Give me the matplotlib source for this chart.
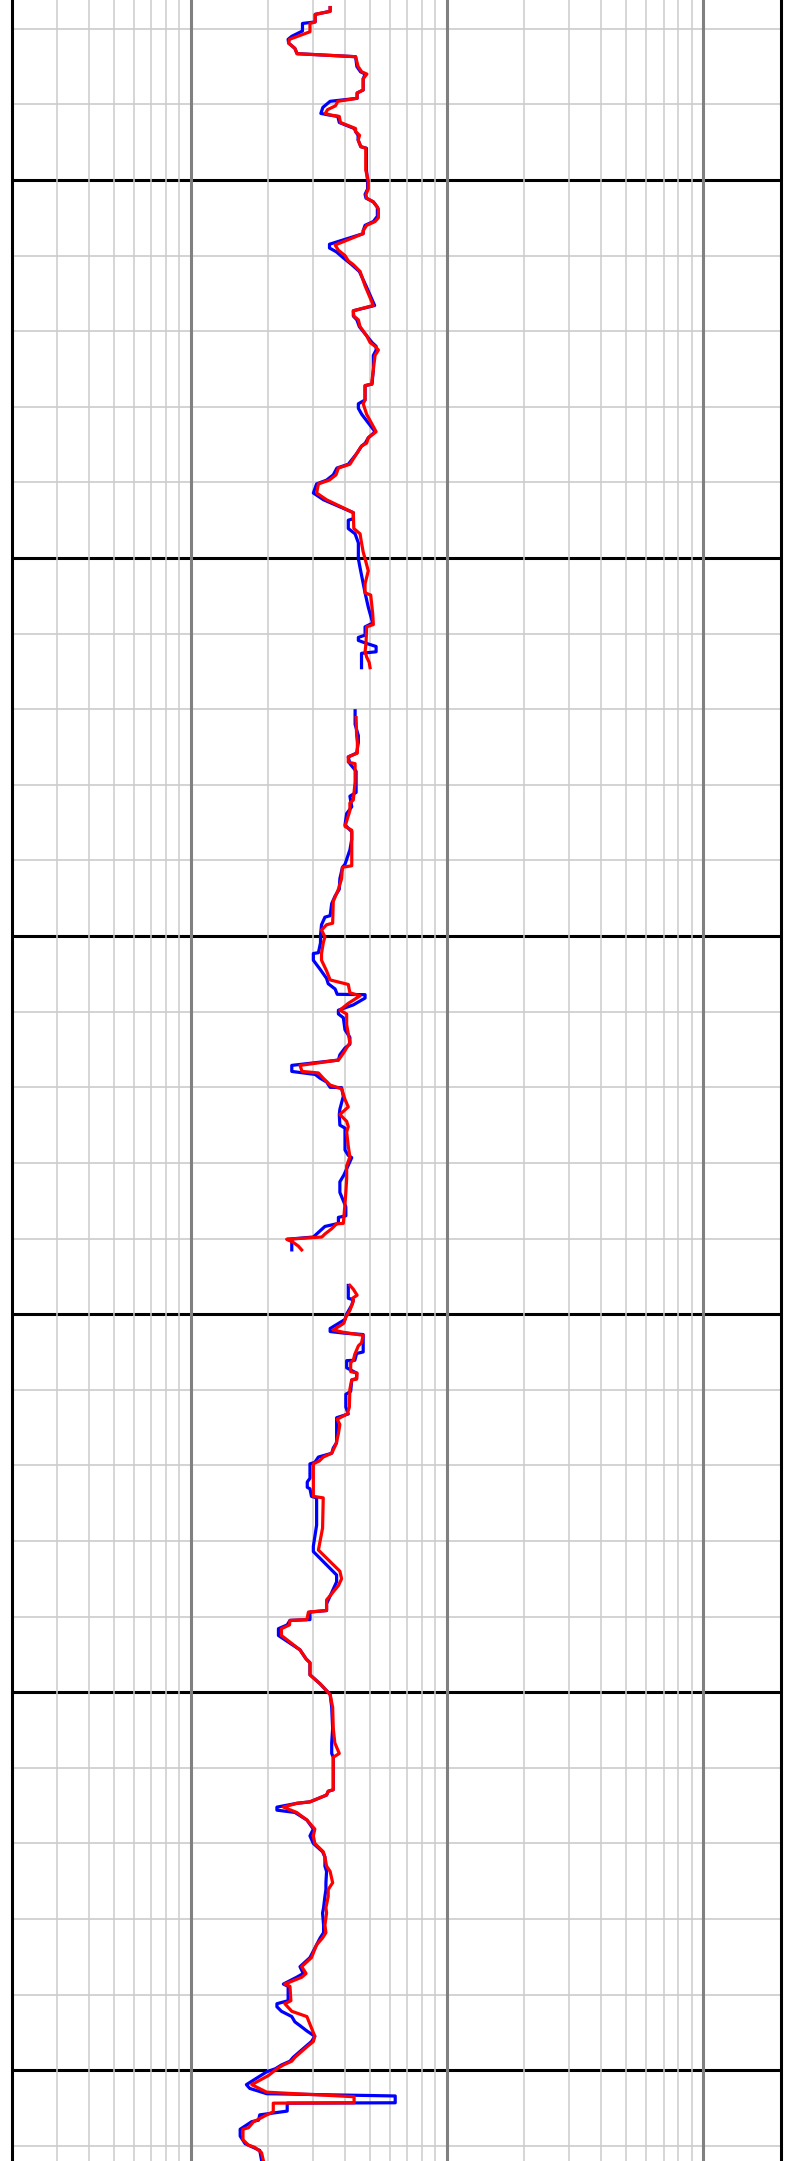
import matplotlib
matplotlib.use('Agg')
import matplotlib.pyplot as plt
import numpy as np

nan = np.nan

blue_log = [
    (1027.2, 3.50), (1027.7, 3.50), (1028.1, 3.06), (1029.1, 3.06), (1029.3, 2.73),
    (1030.3, 2.73), (1031.0, 2.48), (1031.4, 2.40), (1031.9, 2.41), (1032.6, 2.55),
    (1033.3, 2.60), (1033.7, 4.40), (1035.0, 4.45), (1035.7, 4.60), (1036.0, 4.80),
    (1036.6, 4.71), (1038.1, 4.71), (1038.5, 4.46), (1039.2, 4.46), (1039.6, 3.50),
    (1040.4, 3.28), (1041.2, 3.22), (1041.4, 3.45), (1041.6, 3.75), (1042.4, 3.80),
    (1043.2, 4.35), (1043.6, 4.40), (1044.1, 4.50), (1044.7, 4.50), (1045.6, 4.61),
    (1045.8, 4.85), (1048.7, 4.85), (1050.1, 4.90), (1051.2, 4.90), (1051.9, 4.79),
    (1052.4, 4.83), (1052.9, 5.16), (1053.6, 5.35), (1054.8, 5.35), (1055.5, 5.16),
    (1056.0, 4.79), (1056.7, 4.71), (1057.1, 4.71), (1058.5, 3.48), (1059.0, 3.48),
    (1059.5, 3.70), (1060.3, 3.94), (1061.2, 4.25), (1062.1, 4.55), (1064.0, 4.83),
    (1066.6, 5.22), (1067.3, 4.31), (1068.0, 4.31), (1068.5, 4.45), (1069.4, 4.55),
    (1070.6, 4.86), (1071.5, 5.10), (1072.0, 5.29), (1072.5, 5.29), (1073.2, 5.16),
    (1075.1, 5.16), (1077.0, 5.10), (1077.2, 4.79), (1079.1, 4.79), (1079.6, 4.51),
    (1080.2, 4.51), (1081.0, 4.65), (1083.3, 5.24), (1084.1, 4.93), (1084.8, 4.80),
    (1085.2, 4.64), (1086.2, 4.44), (1087.6, 4.12), (1088.1, 3.72), (1089.0, 3.60),
    (1089.7, 3.39), (1090.2, 3.10), (1091.4, 3.01), (1092.3, 3.30), (1094.0, 4.31),
    (1094.8, 4.31), (1095.0, 4.12), (1096.1, 4.12), (1096.8, 4.38), (1098.0, 4.51),
    (1100.1, 4.51), (1101.3, 4.58), (1103.4, 4.71), (1104.6, 4.79), (1106.5, 4.93),
    (1108.6, 5.13), (1109.1, 4.79), (1110.2, 4.79), (1110.5, 4.51), (1110.9, 4.51),
    (1111.3, 4.86), (1111.7, 5.29), (1112.4, 5.29), (1112.6, 4.64), (1114.5, 4.64),
    (1117.0, nan),
    (1120.2, 4.38), (1122.0, 4.38), (1123.5, 4.51), (1124.4, 4.51), (1125.8, 4.44),
    (1126.3, 4.12), (1127.2, 4.18), (1128.2, 4.42), (1131.0, 4.42), (1131.5, 4.18),
    (1132.9, 4.25), (1133.8, 4.06), (1135.3, 4.00), (1136.2, 4.25), (1137.2, 4.25),
    (1138.6, 4.18), (1140.5, 4.00), (1140.9, 3.91), (1142.4, 3.82), (1143.8, 3.80),
    (1144.7, 3.66), (1145.7, 3.55), (1147.3, 3.50), (1147.5, 3.34), (1148.5, 3.24),
    (1149.9, 3.21), (1150.9, 3.21), (1152.2, 3.15), (1152.3, 3.01), (1153.2, 3.01),
    (1154.4, 3.20), (1155.6, 3.39), (1156.3, 3.44), (1157.0, 3.66), (1157.7, 3.73),
    (1157.75, 4.79), (1158.2, 4.79), (1159.1, 4.31), (1159.8, 3.77), (1160.3, 3.77),
    (1160.8, 3.94), (1162.4, 4.00), (1163.4, 4.18), (1164.3, 4.18), (1164.8, 4.00),
    (1165.7, 3.82), (1166.4, 3.77), (1167.1, 2.48), (1167.9, 2.48), (1168.3, 3.06),
    (1168.8, 3.20), (1169.3, 3.39), (1170.0, 3.50), (1170.05, 3.88), (1171.2, 3.94),
    (1172.9, 3.82), (1173.6, 3.80), (1175.0, 3.82), (1175.4, 4.00), (1178.3, 4.00),
    (1179.0, 4.12), (1179.3, 4.25), (1181.6, 3.96), (1182.5, 3.82), (1183.9, 3.82),
    (1185.8, 4.03), (1187.0, 4.03), (1187.2, 3.77), (1188.0, 3.77), (1188.2, 3.55),
    (1188.4, 3.34), (1189.4, 3.10), (1189.8, 3.01), (1190.1, 2.38), (1190.3, 2.48),
    (1191.5, 2.48),
    (1194.0, nan),
    (1196.2, 4.12), (1197.9, 4.12), (1198.1, 4.31), (1198.8, 4.25), (1200.0, 4.06),
    (1200.7, 4.00), (1201.9, 3.50), (1202.3, 3.50), (1202.5, 3.94), (1202.7, 4.71),
    (1205.0, 4.71), (1205.2, 4.44), (1206.1, 4.37), (1206.15, 4.06), (1207.1, 4.06),
    (1207.8, 4.44), (1208.5, 4.44), (1208.7, 4.25), (1210.2, 4.21), (1210.6, 4.03),
    (1212.3, 4.03), (1213.2, 4.12), (1213.7, 3.71), (1217.0, 3.71), (1217.7, 3.60),
    (1218.4, 3.55), (1218.9, 3.15), (1219.6, 3.05), (1219.8, 2.92), (1221.7, 2.92),
    (1222.2, 2.85), (1222.9, 2.85), (1223.1, 2.92), (1224.1, 2.96), (1224.3, 3.10),
    (1227.9, 3.10), (1230.7, 3.01), (1231.4, 3.01), (1234.5, 3.71), (1235.4, 3.71),
    (1238.3, 3.39), (1239.2, 3.39), (1239.4, 2.92), (1240.4, 2.92), (1240.5, 2.44),
    (1241.1, 2.38), (1241.6, 2.20), (1242.5, 2.20), (1244.4, 2.67), (1245.6, 2.82),
    (1246.1, 2.92), (1247.7, 2.92), (1248.9, 3.20), (1250.3, 3.50), (1252.0, 3.55),
    (1254.8, 3.58), (1256.7, 3.55), (1258.1, 3.55), (1258.6, 3.60), (1262.9, 3.60),
    (1263.1, 3.44), (1263.6, 3.39), (1264.5, 2.92), (1264.7, 2.59), (1265.2, 2.17),
    (1265.6, 2.17), (1265.9, 2.55), (1266.9, 2.84), (1268.1, 3.01), (1269.0, 2.92),
    (1270.0, 3.01), (1271.1, 3.27), (1271.8, 3.34), (1273.0, 3.34), (1273.7, 3.39),
    (1275.2, 3.37), (1276.1, 3.37), (1277.0, 3.34), (1278.5, 3.30), (1279.2, 3.27),
    (1280.8, 3.30), (1281.8, 3.30), (1282.5, 3.20), (1283.4, 3.10), (1285.1, 2.92),
    (1286.3, 2.67), (1287.2, 2.75), (1287.7, 2.59), (1288.6, 2.30), (1288.9, 2.40),
    (1290.8, 2.40), (1291.2, 2.17), (1291.6, 2.17), (1292.2, 2.26), (1292.9, 2.48),
    (1293.6, 2.55), (1294.1, 2.67), (1294.8, 2.84), (1295.5, 3.05), (1296.2, 2.96),
    (1296.9, 2.80), (1298.3, 2.51), (1298.8, 2.44), (1299.3, 2.26), (1299.8, 2.14),
    (1300.2, 1.98), (1301.9, 1.65), (1302.4, 1.70), (1303.1, 1.98), (1303.4, 6.28),
    (1304.3, 6.28), (1304.35, 2.38), (1305.4, 2.38), (1305.9, 1.86), (1306.6, 1.84),
    (1306.8, 1.73), (1307.8, 1.56), (1308.7, 1.56), (1309.7, 1.63), (1310.6, 1.86),
    (1311.9, 1.89),
]

red_log = [
    (1027.2, 3.50), (1027.7, 3.50), (1028.1, 3.06), (1029.1, 3.06), (1029.3, 2.92),
    (1030.4, 2.92), (1031.4, 2.43), (1031.9, 2.41), (1032.6, 2.55), (1033.3, 2.60),
    (1033.7, 4.40), (1035.0, 4.50), (1035.7, 4.65), (1036.0, 4.87), (1036.6, 4.71),
    (1038.1, 4.71), (1038.5, 4.46), (1039.2, 4.46), (1039.6, 3.75), (1040.2, 3.67),
    (1040.7, 3.42), (1041.2, 3.35), (1041.4, 3.50), (1041.6, 3.80), (1042.4, 3.84),
    (1043.2, 4.40), (1043.6, 4.40), (1044.1, 4.56), (1044.7, 4.50), (1045.6, 4.61),
    (1045.8, 4.82), (1048.7, 4.82), (1050.1, 4.93), (1051.2, 4.93), (1051.9, 4.83),
    (1052.4, 4.86), (1052.9, 5.16), (1053.8, 5.40), (1055.0, 5.40), (1055.5, 5.24),
    (1056.0, 4.86), (1056.7, 4.71), (1057.1, 4.71), (1058.6, 3.66), (1059.3, 3.77),
    (1060.0, 4.00), (1060.7, 4.12), (1061.2, 4.31), (1062.1, 4.58), (1064.0, 4.79),
    (1066.6, 5.16), (1067.3, 4.31), (1068.0, 4.33), (1068.5, 4.51), (1069.4, 4.58),
    (1070.6, 4.86), (1071.5, 5.01), (1072.0, 5.24), (1072.5, 5.40), (1073.2, 5.24),
    (1075.1, 5.16), (1077.0, 5.08), (1077.2, 4.79), (1079.1, 4.79), (1079.6, 4.71),
    (1081.0, 4.86), (1083.3, 5.29), (1084.1, 4.93), (1084.8, 4.86), (1085.2, 4.64),
    (1086.2, 4.44), (1087.6, 4.18), (1088.1, 3.77), (1089.0, 3.69), (1089.7, 3.47),
    (1090.2, 3.15), (1091.4, 3.10), (1092.3, 3.39), (1094.0, 4.31), (1096.1, 4.33),
    (1096.8, 4.58), (1098.0, 4.64), (1099.2, 4.71), (1100.1, 4.79), (1101.7, 4.93),
    (1103.4, 4.79), (1104.6, 4.79), (1104.9, 5.04), (1107.4, 5.13), (1108.8, 5.16),
    (1109.1, 4.86), (1111.3, 4.83), (1112.4, 4.79), (1113.1, 4.86), (1113.8, 4.97),
    (1114.5, 5.01),
    (1117.0, nan),
    (1121.1, 4.42), (1123.5, 4.44), (1124.4, 4.47), (1125.8, 4.47), (1126.3, 4.12),
    (1127.0, 4.12), (1127.2, 4.38), (1129.6, 4.38), (1132.0, 4.31), (1132.4, 4.18),
    (1133.4, 4.18), (1134.8, 4.06), (1135.5, 4.00), (1136.0, 4.25), (1140.7, 4.25),
    (1140.9, 3.91), (1142.4, 3.88), (1143.8, 3.77), (1145.4, 3.60), (1148.3, 3.58),
    (1148.5, 3.39), (1149.2, 3.24), (1150.1, 3.34), (1150.9, 3.29), (1152.3, 3.24),
    (1153.2, 3.24), (1154.6, 3.39), (1155.8, 3.50), (1156.4, 4.12), (1157.5, 4.18),
    (1157.9, 4.58), (1158.9, 4.12), (1159.8, 3.82), (1160.3, 4.06), (1161.7, 4.06),
    (1164.1, 4.18), (1164.8, 4.06), (1165.5, 3.94), (1166.4, 3.77), (1167.1, 2.67),
    (1167.9, 2.72), (1168.1, 3.15), (1168.8, 3.29), (1169.7, 3.50), (1170.2, 3.88),
    (1171.6, 4.00), (1172.6, 4.12), (1173.6, 3.82), (1174.5, 4.06), (1175.2, 4.12),
    (1175.9, 4.06), (1177.8, 4.12), (1179.2, 4.18), (1180.4, 4.06), (1182.1, 4.06),
    (1183.9, 4.03), (1185.4, 4.00), (1188.0, 3.94), (1188.05, 3.71), (1188.7, 3.55),
    (1189.4, 3.34), (1189.8, 3.25), (1190.1, 2.37), (1190.5, 2.51), (1191.0, 2.63),
    (1191.5, 2.71),
    (1194.0, nan),
    (1196.2, 4.18), (1196.7, 4.31), (1197.5, 4.46), (1197.9, 4.28), (1198.3, 4.31),
    (1199.5, 4.18), (1200.4, 4.03), (1201.2, 3.96), (1202.1, 3.60), (1202.4, 3.94),
    (1202.8, 4.71), (1203.8, 4.64), (1204.2, 4.51), (1205.3, 4.37), (1206.1, 4.31),
    (1206.4, 4.21), (1207.6, 4.21), (1207.8, 4.46), (1208.6, 4.44), (1208.7, 4.25),
    (1209.9, 4.18), (1212.3, 4.16), (1213.2, 4.08), (1213.9, 3.73), (1214.6, 3.82),
    (1215.8, 3.77), (1217.2, 3.69), (1218.4, 3.55), (1218.9, 3.29), (1219.4, 3.18),
    (1219.8, 3.01), (1224.1, 3.01), (1224.3, 3.29), (1228.3, 3.27), (1231.2, 3.15),
    (1234.0, 3.82), (1235.0, 3.88), (1235.9, 3.77), (1237.8, 3.39), (1239.2, 3.39),
    (1239.4, 2.88), (1240.4, 2.84), (1240.5, 2.44), (1241.1, 2.43), (1241.6, 2.26),
    (1242.5, 2.26), (1244.4, 2.67), (1245.6, 2.82), (1246.1, 2.92), (1247.7, 2.92),
    (1248.9, 3.20), (1250.3, 3.50), (1252.0, 3.58), (1254.8, 3.60), (1256.7, 3.65),
    (1258.1, 3.80), (1258.6, 3.60), (1262.9, 3.60), (1263.1, 3.44), (1263.6, 3.39),
    (1264.5, 2.92), (1264.7, 2.59), (1265.2, 2.30), (1265.9, 2.59), (1266.9, 2.84),
    (1268.1, 3.05), (1269.0, 3.01), (1270.0, 3.05), (1271.1, 3.29), (1271.8, 3.34),
    (1273.0, 3.39), (1273.7, 3.50), (1275.2, 3.58), (1276.1, 3.44), (1277.0, 3.44),
    (1278.5, 3.37), (1279.2, 3.39), (1280.8, 3.34), (1281.8, 3.37), (1282.5, 3.27),
    (1283.4, 3.10), (1285.1, 2.96), (1286.3, 2.71), (1287.2, 2.82), (1287.7, 2.71),
    (1288.6, 2.33), (1288.9, 2.44), (1290.8, 2.46), (1291.2, 2.33), (1292.2, 2.48),
    (1292.9, 2.84), (1295.5, 3.05), (1296.2, 3.01), (1296.9, 2.84), (1298.3, 2.55),
    (1298.8, 2.48), (1299.3, 2.30), (1299.8, 2.17), (1300.7, 2.01), (1301.9, 1.73),
    (1302.9, 1.98), (1303.5, 4.34), (1304.3, 4.34), (1304.35, 2.10), (1305.5, 2.10),
    (1305.9, 1.98), (1306.6, 1.81), (1306.8, 1.76), (1307.6, 1.68), (1307.8, 1.60),
    (1309.2, 1.60), (1309.9, 1.68), (1310.2, 1.78), (1310.9, 1.89), (1311.9, 1.92),
]

depth_top = 1026.2
depth_bottom = 1312.0
major_depths = np.arange(1050, 1301, 50)
minor_depths = np.arange(1030, 1311, 10)

blue_depth = [d for d, v in blue_log]
blue_res = [v for d, v in blue_log]
red_depth = [d for d, v in red_log]
red_res = [v for d, v in red_log]

fig = plt.figure(figsize=(7.95, 21.61), dpi=100)
ax = fig.add_axes([11.5 / 795, 0, 769 / 795, 1])

ax.set_xscale('log')
ax.set_xlim(0.2, 200)
ax.set_ylim(depth_bottom, depth_top)

# depth lines go under the resistivity grid
for d in minor_depths:
    if d % 50 != 0:
        ax.axhline(d, color='#c8c8c8', linewidth=1.1, zorder=0.2)
for d in major_depths:
    ax.axhline(d, color='black', linewidth=2.2, zorder=0.3)

ax.set_axisbelow(True)
ax.grid(which='major', axis='x', color='#808080', linewidth=2.2)
ax.grid(which='minor', axis='x', color='#cccccc', linewidth=1.1)

ax.plot(blue_res, blue_depth, color='#0000ff', linewidth=2.3)
ax.plot(red_res, red_depth, color='#ff0000', linewidth=2.3)

ax.set_yticks([])
ax.tick_params(which='both', length=0, labelleft=False, labelbottom=False)
for side in ['top', 'bottom']:
    ax.spines[side].set_visible(False)
for side in ['left', 'right']:
    ax.spines[side].set_linewidth(2.2)
    ax.spines[side].set_color('black')

fig.savefig('out.png', dpi=100)
